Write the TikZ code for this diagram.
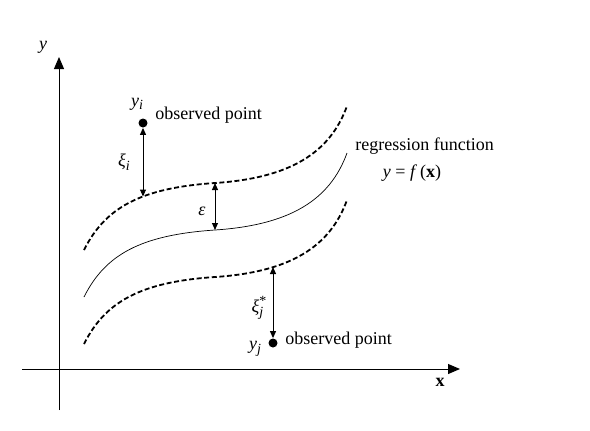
\documentclass[tikz,border=0pt]{standalone}
\usepackage{fontspec}
\setmainfont{Liberation Serif}
\usetikzlibrary{arrows.meta}
\begin{document}
\begin{tikzpicture}[x=0.5pt,y=-0.5pt,font=\fontsize{9}{11}\selectfont,
  axis/.style={line width=0.5pt,-{Triangle[length=6pt,width=5pt]}},
  dbl/.style={line width=0.5pt,{Triangle[length=3.5pt,width=3pt]}-{Triangle[length=3.5pt,width=3pt]}},
  band/.style={line width=0.9pt,dash pattern=on 2.5pt off 1.3pt},
  reg/.style={line width=0.35pt},
  dot/.style={circle,fill,inner sep=0pt,minimum size=4.5pt},
  lbl/.style={inner sep=0pt}]
\useasboundingbox (0,0) rectangle (590,430);
% axes
\coordinate (ybot) at (59,410);
\coordinate (ytop) at (59,57);
\coordinate (xl) at (22,369);
\coordinate (xr) at (460,369);
\draw[axis] (ybot) -- (ytop);
\draw[axis] (xl) -- (xr);
\node[lbl] (ylab) at (43,47) {\textit{y}};
\node[lbl] (xlab) at (440,382) {\textbf{x}};
% curves
\draw[reg] (84,297) .. controls (105,255) and (140,235) .. (215,230) .. controls (290,225) and (330,200) .. (347,153);
\begin{scope}[shift={(0,-47)}]
\draw[band] (84,297) .. controls (105,255) and (140,235) .. (215,230) .. controls (290,225) and (330,200) .. (347,153);
\end{scope}
\begin{scope}[shift={(0,47)}]
\draw[band] (84,297) .. controls (105,255) and (140,235) .. (215,230) .. controls (290,225) and (330,200) .. (347,153);
\end{scope}
% points
\node[dot] (pi) at (143,123) {};
\node[dot] (pj) at (273,343) {};
\coordinate (ci) at (143,196.5);
\coordinate (eu) at (215,183);
\coordinate (el) at (215,230);
\coordinate (cj) at (273,267);
\draw[dbl] (pi) -- (ci);
\draw[dbl] (eu) -- (el);
\draw[dbl] (cj) -- (pj);
% labels
\node[lbl] (yi) at (137,104) {\textit{y}\raisebox{-0.45ex}{\scriptsize\textit{i}}};
\node[lbl,anchor=west] (obs1) at (155,115) {observed point};
\node[lbl] (xii) at (124,162) {\textit{ξ}\raisebox{-0.45ex}{\scriptsize\textit{i}}};
\node[lbl] (eps) at (202,211) {\textit{ε}};
\node[lbl] (xij) at (259,308) {\textit{ξ}\raisebox{-0.5ex}{\shortstack[l]{\scriptsize *\\[-0.6ex]\scriptsize\textit{j}}}};
\node[lbl] (yj) at (255,349) {\textit{y}\raisebox{-0.45ex}{\scriptsize\textit{j}}};
\node[lbl,anchor=west] (obs2) at (285,340) {observed point};
\node[lbl,anchor=west] (regf) at (355,146) {regression function};
\node[lbl] (fx) at (412,173) {\textit{y} = \textit{f}\,(\textbf{x})};
\end{tikzpicture}
\end{document}
